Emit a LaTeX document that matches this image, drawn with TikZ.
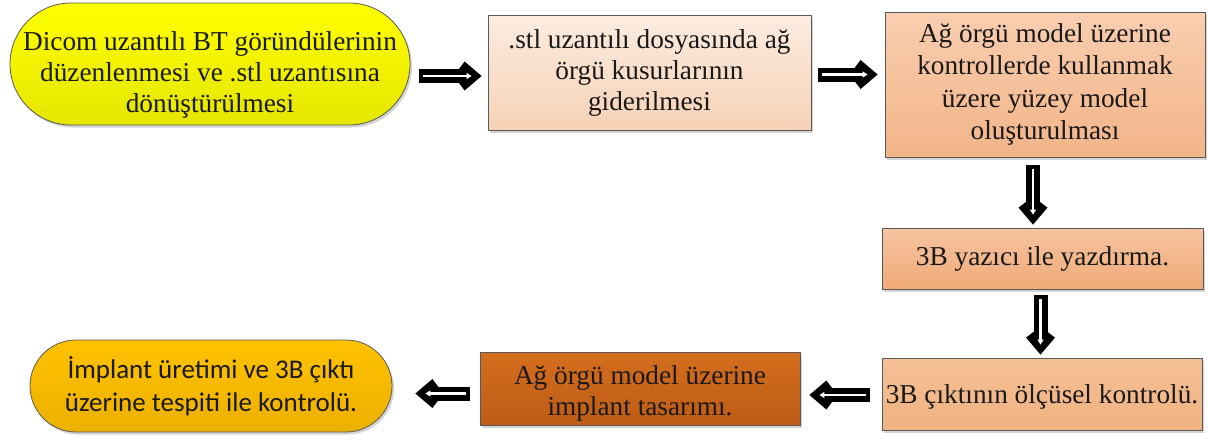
\documentclass[tikz,border=0pt]{standalone}
\usepackage{fontspec}
\setmainfont{Liberation Serif}
\newfontfamily\calib{Carlito}
\usetikzlibrary{shadows,calc,arrows.meta}
\newcommand\blockarrow[2]{%
  \draw[line width=14pt,-{Kite[length=28pt,width=29pt,inset=11pt]}] #1 -- #2;
  \draw[white,line width=2.2pt,shorten <=4pt,shorten >=10pt,-{Triangle[length=5pt,width=6pt]}] #1 -- #2;}
\begin{document}
\begin{tikzpicture}[x=1pt,y=-1pt,
  box/.style={draw=black!65,line width=0.8pt,align=center,inner sep=0pt,
    font=\fontsize{27.3}{31}\selectfont,text=black!90,
    drop shadow={shadow xshift=2pt,shadow yshift=-2.5pt,opacity=0.35}},
  txt/.style={align=center,inner sep=0pt,font=\fontsize{27.3}{31}\selectfont,text=black!90},
]
\useasboundingbox (0,0) rectangle (1208,442);
\node[box,minimum width=400pt,minimum height=122pt,rounded corners=61pt,
  top color=yellow,bottom color=yellow!90!black,
  label={[txt,yshift=-11pt]center:Dicom uzantılı BT göründülerinin\\düzenlenmesi ve .stl uzantısına\\dönüştürülmesi}] (n1) at (210,64) {};
\node[box,minimum width=323pt,minimum height=115pt,
  top color={rgb,255:red,252;green,236;blue,224},bottom color={rgb,255:red,246;green,210;blue,182}] (n2) at (649.5,72.5)
  {.stl uzantılı dosyasında ağ\\örgü kusurlarının\\giderilmesi};
\node[box,minimum width=320pt,minimum height=145pt,font=\fontsize{27.3}{32.5}\selectfont,
  top color={rgb,255:red,249;green,206;blue,176},bottom color={rgb,255:red,242;green,180;blue,136}] (n3) at (1045,84.5)
  {Ağ örgü model üzerine\\kontrollerde kullanmak\\üzere yüzey model\\oluşturulması};
\node[box,minimum width=321pt,minimum height=61pt,
  top color={rgb,255:red,246;green,196;blue,160},bottom color={rgb,255:red,240;green,170;blue,120}] (n4) at (1042.5,258.5)
  {3B yazıcı ile yazdırma.};
\node[box,minimum width=320pt,minimum height=72pt,
  top color={rgb,255:red,245;green,192;blue,150},bottom color={rgb,255:red,240;green,178;blue,128},
  label={[txt,yshift=-3pt]center:3B çıktının ölçüsel kontrolü.}] (n5) at (1042,394) {};
\node[box,minimum width=320pt,minimum height=73pt,
  top color={rgb,255:red,212;green,110;blue,30},bottom color={rgb,255:red,190;green,92;blue,22},
  label={[txt,yshift=-5pt]center:Ağ örgü model üzerine\\implant tasarımı.}] (n6) at (640,388.5) {};
\node[box,minimum width=362pt,minimum height=92pt,rounded corners=46pt,
  font=\calib\fontsize{27}{33}\selectfont,
  top color={rgb,255:red,255;green,194;blue,0},bottom color={rgb,255:red,236;green,176;blue,0}] (n7) at (211,386)
  {İmplant üretimi ve 3B çıktı\\üzerine tespiti ile kontrolü.};
\blockarrow{([shift={(9,12)}]n1.east)}{([shift={(-6,12)}]n1.east -| n2.west)}
\blockarrow{([shift={(7,2)}]n2.east)}{([shift={(-7,2)}]n2.east -| n3.west)}
\blockarrow{([shift={(-12,8)}]n3.south)}{([shift={(-12,-3)}]n3.south |- n4.north)}
\blockarrow{([shift={(-2,6)}]n4.south)}{([shift={(-2,-3)}]n4.south |- n5.north)}
\blockarrow{([shift={(-12,1)}]n5.west)}{([shift={(9,1)}]n5.west -| n6.east)}
\blockarrow{([shift={(-10,5)}]n6.west)}{([shift={(23,5)}]n6.west -| n7.east)}
\end{tikzpicture}
\end{document}
